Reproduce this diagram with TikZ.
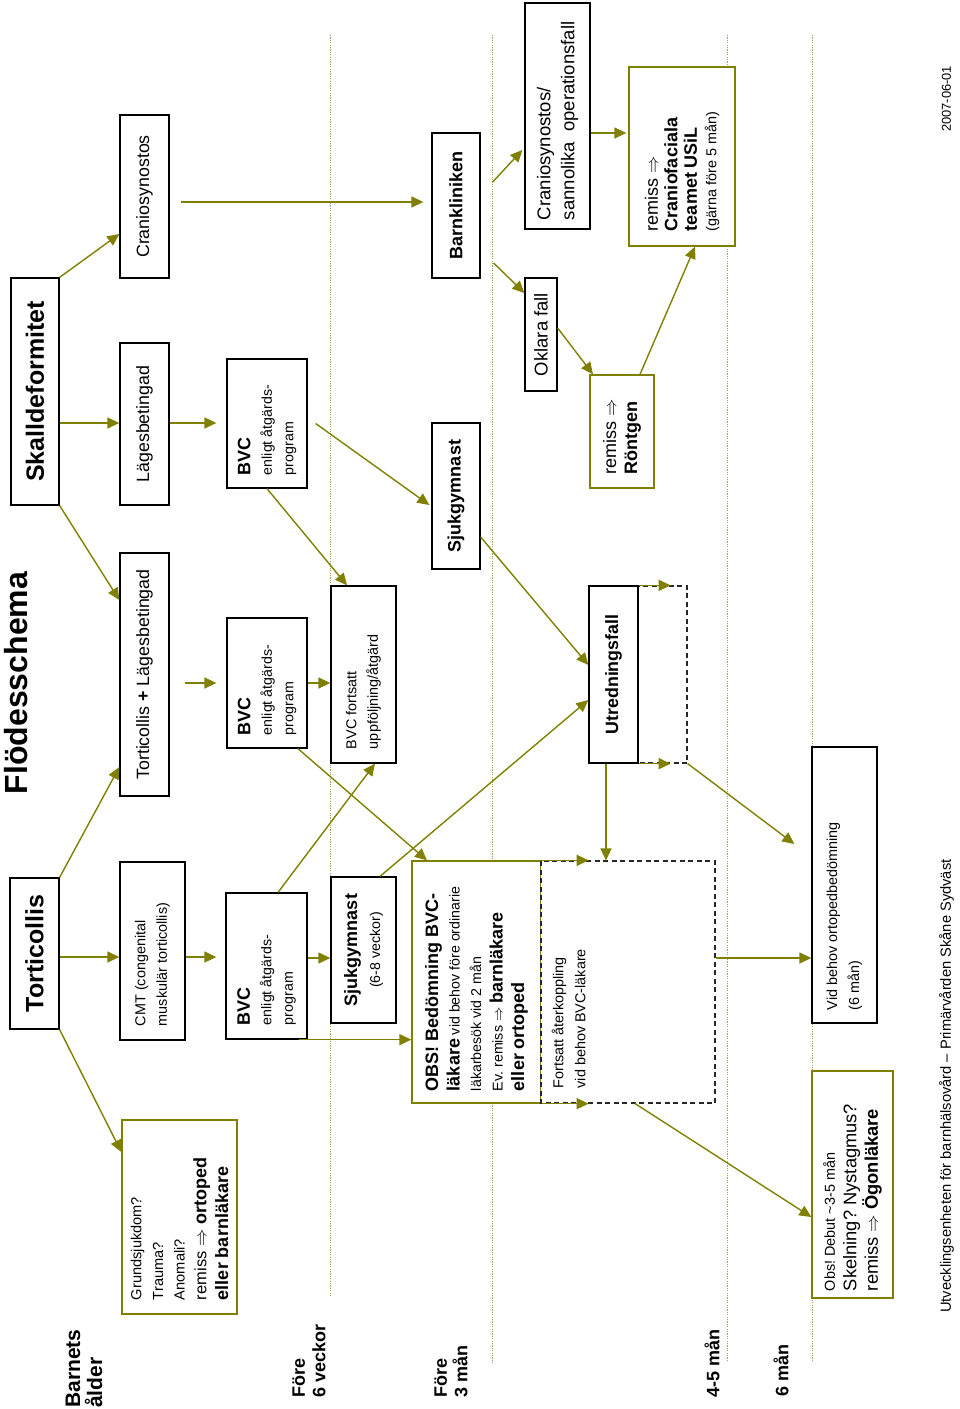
\documentclass[tikz,border=0pt]{standalone}
\usepackage{fontspec}
\setmainfont{Liberation Sans}
\usetikzlibrary{arrows.meta,calc}
\definecolor{oliv}{RGB}{128,128,0}
\definecolor{dotc}{RGB}{160,160,100}
\newcommand{\fsz}[2]{\fontsize{#1}{#2}\selectfont}
\frenchspacing
\hyphenpenalty=10000
\exhyphenpenalty=10000
\tikzset{
  bx/.style={draw=black, line width=1.3pt, fill=white, rotate=90, inner sep=0pt, align=center},
  ob/.style={bx, draw=oliv},
  dsh/.style={draw=black!85, line width=1.1pt, dash pattern=on 5pt off 3.5pt, fill=white, rotate=90, inner sep=0pt},
  arr/.style={draw=oliv, line width=1.4pt, -{Triangle[length=12pt,width=11pt]}},
  dotl/.style={draw=dotc, line width=0.9pt, dash pattern=on 1.2pt off 1.2pt},
  lbl/.style={rotate=90, inner sep=0pt, align=flush left, anchor=west}
}
\begin{document}
\begin{tikzpicture}[x=1pt,y=-1pt]
\useasboundingbox (0,0) rectangle (960,1409);

% dotted age lines
\draw[dotl] (330,35) -- (330,1297);
\draw[dotl] (492,35) -- (492,1363);
\draw[dotl] (727,35) -- (727,1362);
\draw[dotl] (812,35) -- (812,1362);

% title and heads
\node[rotate=90, inner sep=0pt, font=\fsz{32}{38}\bfseries] (title) at (16,683) {Flödesschema};
\node[bx, minimum width=151, minimum height=49, font=\fsz{25}{30}\bfseries] (tort) at (34.5,953.5) {Torticollis};
\node[bx, minimum width=227, minimum height=48, font=\fsz{25}{30}\bfseries] (skall) at (35,391.5) {Skalldeformitet};

% column 2
\node[ob, minimum width=194, minimum height=115, text width=166, inner xsep=14, align=flush left, font=\fsz{14.6}{21.7}] (grund) at (179.5,1217)
  {Grundsjukdom?\\Trauma?\\Anomali?\\{\fsz{16.5}{21.7}remiss $\Rightarrow$ {\fsz{18}{21.7}\bfseries ortoped}}\\{\fsz{18}{21.7}\bfseries eller barnläkare}};
\node[bx, minimum width=178, minimum height=65, text width=150, inner xsep=14, align=flush left, font=\fsz{14.4}{21.5}] (cmt) at (152.5,951) {CMT (congenital\\muskulär torticollis)};
\node[bx, minimum width=243, minimum height=49, font=\fsz{17.8}{21}] (tl) at (144.5,674.5) {Torticollis \textbf{+} Lägesbetingad};
\node[bx, minimum width=162, minimum height=49, font=\fsz{17.8}{21}] (lage) at (144.5,424) {Lägesbetingad};
\node[bx, minimum width=163, minimum height=49, font=\fsz{17.8}{21}] (cranio) at (144.5,196.5) {Craniosynostos};

% column 3
\node[bx, minimum width=146, minimum height=81, text width=118, inner xsep=14, align=flush left, font=\fsz{14.2}{21.5}] (bvc1) at (266.5,966) {{\fsz{18}{21.5}\bfseries BVC}\\enligt åtgärds-\\program};
\node[bx, minimum width=130, minimum height=80, text width=104, inner xsep=13, align=flush left, font=\fsz{14.2}{21.5}] (bvc2) at (267,683) {{\fsz{18}{21.5}\bfseries BVC}\\enligt åtgärds-\\program};
\node[bx, minimum width=129, minimum height=80, text width=103, inner xsep=13, align=flush left, font=\fsz{14.2}{21.5}] (bvc3) at (267,423.5) {{\fsz{18}{21.5}\bfseries BVC}\\enligt åtgärds-\\program};

% column 4
\node[bx, minimum width=146, minimum height=65, font=\fsz{14.2}{23}] (sjuk1) at (363.5,950) {{\fsz{18}{23}\bfseries Sjukgymnast}\\(6-8 veckor)};
\node[bx, minimum width=177, minimum height=65, text width=149, inner xsep=14, align=flush left, font=\fsz{14.4}{21.5}] (bvcf) at (363.5,674.5) {BVC fortsatt\\uppföljning/åtgärd};

% column 5
\node[ob, minimum width=242, minimum height=129, text width=218, inner xsep=12, align=flush left, font=\fsz{14.2}{21.5}] (obs) at (476.5,982)
  {{\fsz{18}{21.5}\bfseries OBS! Bedömning BVC-}\\{\fsz{18}{21.5}\bfseries läkare} vid behov före ordinarie\\läkarbesök vid 2 mån\\Ev. remiss $\Rightarrow$ {\fsz{18}{21.5}\bfseries barnläkare}\\{\fsz{18}{21.5}\bfseries eller ortoped}};
\node[dsh, minimum width=242, minimum height=174] (dash1) at (628,982) {};
\node[rotate=90, inner sep=0pt, align=flush left, anchor=north west, font=\fsz{14.4}{22}] (dash1t) at ($(dash1.north west)+(11,-15)$) {Fortsatt återkoppling\\vid behov BVC-läkare};
\node[bx, minimum width=146, minimum height=48, font=\fsz{18}{21}\bfseries] (sjuk2) at (456,496) {Sjukgymnast};
\node[bx, minimum width=145, minimum height=48, font=\fsz{18}{21}\bfseries] (barn) at (456,205.5) {Barnkliniken};

% column 6
\node[dsh, minimum width=177, minimum height=49] (dash2) at (662.5,674.5) {};
\node[bx, minimum width=177, minimum height=49, font=\fsz{17.8}{21}\bfseries] (utr) at (613.5,674.5) {Utredningsfall};
\node[bx, minimum width=113, minimum height=32, font=\fsz{18.5}{21}] (oklara) at (541,334.5) {Oklara fall};
\node[bx, minimum width=226, minimum height=65, text width=208, inner xsep=9, align=flush left, font=\fsz{18.5}{24}] (cranio2) at (557.5,116) {Craniosynostos/\\sannolika\hspace{0.55em}operationsfall};
\node[ob, minimum width=113, minimum height=64, text width=85, inner xsep=14, align=flush left, font=\fsz{18}{21}] (rontgen) at (622,431.5) {remiss $\Rightarrow$\\\textbf{Röntgen}};
\node[ob, minimum width=179, minimum height=106, text width=149, inner xsep=15, align=flush left, font=\fsz{18}{19.5}] (crfac) at (682,156.5)
  {remiss $\Rightarrow$\\\textbf{Craniofaciala}\\\textbf{teamet USiL}\\{\fsz{14.4}{19.5}(gärna före 5 mån)}};

% 6 months
\node[bx, minimum width=276, minimum height=65, text width=250, inner xsep=13, align=flush left, font=\fsz{14.4}{22}] (vid) at (844.5,885) {Vid behov ortopedbedömning\\(6 mån)};
\node[ob, minimum width=227, minimum height=81, text width=213, inner xsep=7, align=flush left, font=\fsz{18.3}{21.5}] (ogon) at (852.5,1184.5)
  {{\fsz{14.4}{21.5}Obs! Debut \textasciitilde 3-5 mån}\\Skelning? Nystagmus?\\remiss $\Rightarrow$ \textbf{Ögonläkare}};

% age labels and footer
\node[lbl, font=\fsz{21}{22}\bfseries] (lab0) at (84,1408) {Barnets\\ålder};
\node[lbl, font=\fsz{18}{20.5}\bfseries] (lab1) at (309,1398) {Före\\6 veckor};
\node[lbl, font=\fsz{18}{20.5}\bfseries] (lab2) at (451,1398) {Före\\3 mån};
\node[lbl, font=\fsz{18}{20.5}\bfseries] (lab3) at (712,1398) {4-5 mån};
\node[lbl, font=\fsz{18}{20.5}\bfseries] (lab4) at (781,1397) {6 mån};
\node[lbl, font=\fsz{14.7}{17}] (foot) at (946.5,1313) {Utvecklingsenheten för barnhälsovård – Primärvården Skåne Sydväst};
\node[lbl, font=\fsz{12.9}{15}] (date) at (946.5,132) {2007-06-01};

% connectors
\draw[arr] (tort.south west) -- (grund.north |- 0,1152);
\draw[arr] (tort.south |- 0,957) -- (cmt.north |- 0,957);
\draw[arr] (tort.south east) -- (tl.north |- 0,767);
\draw[arr] (skall.south west) -- (tl.north |- 0,600);
\draw[arr] (skall.south |- 0,423) -- (lage.north |- 0,423);
\draw[arr] (skall.south east) -- (cranio.north |- 0,234);
\draw[arr] ($(cranio.south |- 0,202)+(11,0)$) -- ($(barn.north |- 0,202)+(-8,0)$);
\draw[arr] (cmt.south |- 0,957) -- ($(bvc1.north |- 0,957)+(-9,0)$);
\draw[arr] ($(tl.south |- 0,683)+(15,0)$) -- ($(bvc2.north |- 0,683)+(-10,0)$);
\draw[arr] (lage.south |- 0,423) -- ($(bvc3.north |- 0,423)+(-10,0)$);
\draw[arr] (bvc1.south |- 0,958) -- (sjuk1.north |- 0,958);
\draw[arr] ($(bvc1.south west)+(-9,0)$) -- (obs.north |- bvc1.south west);
\draw[arr] ($(bvc1.east)+(11.5,0)$) -- ($(bvcf.west)+(11.5,0)$);
\draw[arr] ($(bvc2.west)+(31,0)$) -- ($(obs.east)+(-49.5,0)$);
\draw[arr] (bvc2.south |- 0,683) -- (bvcf.north |- 0,683);
\draw[arr] (bvc3.west) -- ($(bvcf.east)+(-16.5,0)$);
\draw[arr] ($(bvc3.south)+(8,0)$) -- ($(sjuk2.north |- 0,505)+(-2,0)$);
\draw[arr] ($(sjuk1.east)+(16.5,0)$) -- (utr.north |- 0,700);
\draw[arr] (sjuk2.south |- 0,537) -- (utr.north |- 0,665);
\draw[arr] ($(barn.south |- 0,263)+(13,0)$) -- (oklara.north |- 0,293);
\draw[arr] ($(barn.south |- 0,182)+(12,0)$) -- ($(cranio2.north |- 0,150)+(-2,0)$);
\draw[arr] (cranio2.south |- 0,133) -- ($(crfac.north |- 0,133)+(-2,0)$);
\draw[arr] (oklara.south |- 0,328) -- ($(rontgen.east)+(-29,0)$);
\draw[arr] ($(rontgen.east)+(18,0)$) -- ($(crfac.west)+(13,0)$);
\draw[arr] (utr.south east) -- ($(utr.south east)+(32,0)$);
\draw[arr] (utr.south west) -- ($(utr.south west)+(32,0)$);
\coordinate (u1) at ($(utr.west)+(-7.5,0)$);
\draw[arr] (u1) -- (u1 |- dash1.east);
\draw[arr] (dash2.south west) -- ($(vid.north |- 0,844)+(-17,0)$);
\draw[arr] (obs.south east) -- ($(obs.south east)+(47,0)$);
\draw[arr] (obs.south west) -- ($(obs.south west)+(47,0)$);
\draw[arr] (dash1.south |- 0,958) -- (vid.north |- 0,958);
\draw[arr] ($(dash1.west)+(7,0)$) -- (ogon.north |- 0,1217);
\end{tikzpicture}
\end{document}
